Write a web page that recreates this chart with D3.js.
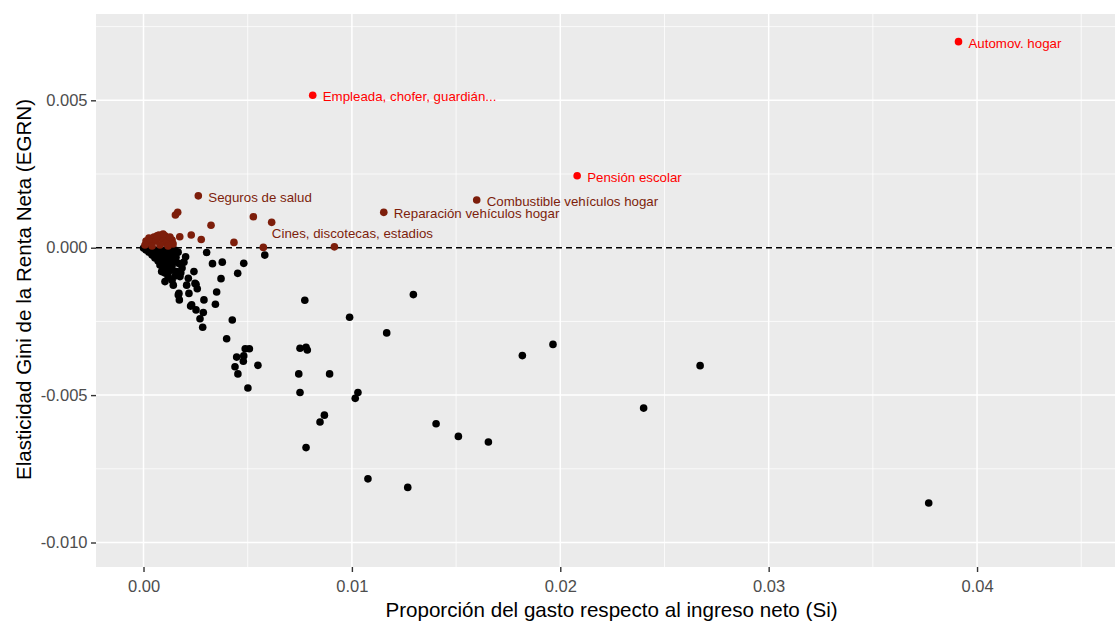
<!DOCTYPE html>
<html>
<head>
<meta charset="utf-8">
<script src="https://cdn.jsdelivr.net/npm/d3@7"></script>
<style>
  html, body { margin: 0; padding: 0; background: #fff; }
  svg { display: block; font-family: "Liberation Sans", Arial, sans-serif; }
</style>
</head>
<body>
<svg id="chart" width="1115" height="622"></svg>
<script>
// ---- Data ----
// Labelled items: name, Si, EGRN
const labelNames = ["Automov. hogar", "Empleada, chofer, guardián...", "Pensión escolar",
  "Combustible vehículos hogar", "Seguros de salud", "Reparación vehículos hogar",
  "Cines, discotecas, estadios"];
const labelSi = [0.03911, 0.00812, 0.02081, 0.01599, 0.00263, 0.01153, 0.00575];
const labelEGRN = [0.00699, 0.00517, 0.00244, 0.00162, 0.00176, 0.00120, 0.00001];

// Unlabelled items with positive elasticity
const posSi = [0.00164, 0.00153, 0.00527, 0.00615, 0.00324, 0.00174, 0.00229, 0.00277, 0.00434, 0.00916,
  0.00122, 0.00074, 0.00026, 0.00103, 0.00137, 0.00050, 0.00089, 0.00012, 0.00031, 0.00060,
  0.00108, 0.00142, 0.00007, 0.00041, 0.00079, 0.00118, 0.00094, 0.00065, 0.00127];
const posEGRN = [0.00120, 0.00111, 0.00105, 0.00086, 0.00076, 0.00037, 0.00043, 0.00028, 0.00018, 0.00003,
  0.00033, 0.00043, 0.00033, 0.00040, 0.00026, 0.00036, 0.00030, 0.00023, 0.00019, 0.00023,
  0.00016, 0.00013, 0.00009, 0.00006, 0.00009, 0.00006, 0.00046, 0.00040, 0.00036];

// Items with negative elasticity
const negSi = [0.00303, 0.00202, 0.00582, 0.00331, 0.00378, 0.00481, 0.00168, 0.00452, 0.00372, 0.00242,
  0.00179, 0.00215, 0.00252, 0.00258, 0.00351, 0.00290, 0.00345, 0.00218, 0.00170, 0.00172,
  0.00226, 0.00252, 0.00287, 0.00271, 0.00284, 0.00426, 0.00399, 0.00774, 0.01295, 0.00989,
  0.01167, 0.00488, 0.00508, 0.00447, 0.00481, 0.00479, 0.00439, 0.00453, 0.00549, 0.00501,
  0.00751, 0.00780, 0.00786, 0.00745, 0.00893, 0.00751, 0.01029, 0.01016, 0.00868, 0.00847,
  0.00780, 0.01404, 0.01511, 0.01655, 0.01077, 0.01268, 0.01818, 0.01965, 0.02400, 0.02671,
  0.03768, 0.00103, 0.00143, 0.00175, 0.00207, 0.00247, 0.00167, 0.00231, 0.00087, 0.00119,
  0.00159, 0.00000, 0.00012, 0.00026, 0.00041, 0.00055, 0.00070, 0.00079, 0.00094, 0.00031,
  0.00055, 0.00079, 0.00103, 0.00127, 0.00151, 0.00046, 0.00070, 0.00094, 0.00118, 0.00142,
  0.00166, 0.00060, 0.00084, 0.00108, 0.00132, 0.00156, 0.00074, 0.00098, 0.00122, 0.00146,
  0.00089, 0.00113, 0.00137, 0.00108, 0.00132, 0.00103, 0.00118, 0.00151, 0.00137, 0.00194,
  0.00185];
const negEGRN = [-0.00016, -0.00031, -0.00025, -0.00054, -0.00049, -0.00053, -0.00053, -0.00087, -0.00105, -0.00081,
  -0.00085, -0.00104, -0.00124, -0.00139, -0.00150, -0.00177, -0.00192, -0.00155, -0.00155, -0.00177,
  -0.00198, -0.00211, -0.00220, -0.00241, -0.00270, -0.00245, -0.00309, -0.00178, -0.00159, -0.00236,
  -0.00289, -0.00343, -0.00343, -0.00371, -0.00367, -0.00385, -0.00404, -0.00428, -0.00399, -0.00476,
  -0.00341, -0.00338, -0.00347, -0.00428, -0.00428, -0.00491, -0.00491, -0.00511, -0.00568, -0.00591,
  -0.00678, -0.00597, -0.00640, -0.00659, -0.00784, -0.00813, -0.00366, -0.00328, -0.00544, -0.00400,
  -0.00866, -0.00115, -0.00127, -0.00098, -0.00127, -0.00121, -0.00160, -0.00194, -0.00081, -0.00081,
  -0.00081, -0.00001, -0.00008, -0.00015, -0.00025, -0.00035, -0.00045, -0.00059, -0.00072, -0.00004,
  -0.00008, -0.00008, -0.00008, -0.00008, -0.00008, -0.00015, -0.00018, -0.00018, -0.00018, -0.00021,
  -0.00015, -0.00028, -0.00032, -0.00032, -0.00035, -0.00032, -0.00042, -0.00045, -0.00049, -0.00045,
  -0.00055, -0.00059, -0.00062, -0.00069, -0.00076, -0.00086, -0.00099, -0.00096, -0.00110, -0.00049,
  -0.00069];

const xTicks = [0.00, 0.01, 0.02, 0.03, 0.04];
const xTickLabels = ["0.00", "0.01", "0.02", "0.03", "0.04"];
const yTicks = [-0.010, -0.005, 0.000, 0.005];
const yTickLabels = ["-0.010", "-0.005", "0.000", "0.005"];
const xTitle = "Proporción del gasto respecto al ingreso neto (Si)";
const yTitle = "Elasticidad Gini de la Renta Neta (EGRN)";

// ---- Layout ----
const panel = { left: 96, top: 14, right: 1115, bottom: 567 };
const svg = d3.select("#chart");

const x = d3.scaleLinear().domain([-0.00228, 0.04662]).range([panel.left, panel.right]);
const y = d3.scaleLinear().domain([-0.010831, 0.007928]).range([panel.bottom, panel.top]);

const colRed = "#ff0000", colDark = "#7d1e0b", colNeg = "#000000";
const colorFor = v => v >= 0.002 ? colRed : (v >= 0 ? colDark : colNeg);

// Panel background
svg.append("rect")
  .attr("x", panel.left).attr("y", panel.top)
  .attr("width", panel.right - panel.left).attr("height", panel.bottom - panel.top)
  .attr("fill", "#ebebeb");

const grid = svg.append("g");
const xMinor = [0.005, 0.015, 0.025, 0.035, 0.045];
const yMinor = [-0.0075, -0.0025, 0.0025, 0.0075];
grid.selectAll(".xm").data(xMinor).join("line")
  .attr("x1", d => x(d)).attr("x2", d => x(d))
  .attr("y1", panel.top).attr("y2", panel.bottom)
  .attr("stroke", "#fff").attr("stroke-width", 0.75);
grid.selectAll(".ym").data(yMinor).join("line")
  .attr("y1", d => y(d)).attr("y2", d => y(d))
  .attr("x1", panel.left).attr("x2", panel.right)
  .attr("stroke", "#fff").attr("stroke-width", 0.75);
grid.selectAll(".xM").data(xTicks).join("line")
  .attr("x1", d => x(d)).attr("x2", d => x(d))
  .attr("y1", panel.top).attr("y2", panel.bottom)
  .attr("stroke", "#fff").attr("stroke-width", 1.5);
grid.selectAll(".yM").data(yTicks).join("line")
  .attr("y1", d => y(d)).attr("y2", d => y(d))
  .attr("x1", panel.left).attr("x2", panel.right)
  .attr("stroke", "#fff").attr("stroke-width", 1.5);

// Axes
const tickFont = "16.5px";
const xAxis = d3.axisBottom(x).tickValues(xTicks)
  .tickFormat((d, i) => xTickLabels[i]).tickSize(5).tickPadding(8);
const gx = svg.append("g").attr("transform", `translate(0,${panel.bottom})`).call(xAxis);
gx.select(".domain").remove();
gx.selectAll(".tick line").attr("stroke", "#333333").attr("stroke-width", 1.4);
gx.selectAll(".tick text").attr("fill", "#4d4d4d").style("font-size", tickFont)
  .style("font-family", "'Liberation Sans', Arial, sans-serif");

const yAxis = d3.axisLeft(y).tickValues(yTicks)
  .tickFormat((d, i) => yTickLabels[i]).tickSize(5).tickPadding(3.5);
const gy = svg.append("g").attr("transform", `translate(${panel.left},0)`).call(yAxis);
gy.select(".domain").remove();
gy.selectAll(".tick line").attr("stroke", "#333333").attr("stroke-width", 1.4);
gy.selectAll(".tick text").attr("fill", "#4d4d4d").style("font-size", tickFont)
  .style("font-family", "'Liberation Sans', Arial, sans-serif");

// Titles
svg.append("text").attr("x", (panel.left + panel.right) / 2 + 6).attr("y", 617)
  .attr("text-anchor", "middle").attr("fill", "#000").style("font-size", "20.6px").text(xTitle);
svg.append("text")
  .attr("transform", `translate(31,${(panel.top + panel.bottom) / 2 - 1}) rotate(-90)`)
  .attr("text-anchor", "middle").attr("fill", "#000").style("font-size", "20.6px").text(yTitle);

// Zero reference line
svg.append("line")
  .attr("x1", panel.left).attr("x2", panel.right)
  .attr("y1", y(0)).attr("y2", y(0))
  .attr("stroke", "#000").attr("stroke-width", 1.5).attr("stroke-dasharray", "6,4");

// Points
const neg = negSi.map((s, i) => ({ s, e: negEGRN[i] }));
const pos = posSi.map((s, i) => ({ s, e: posEGRN[i] }));
const lab = labelNames.map((n, i) => ({ n, s: labelSi[i], e: labelEGRN[i] }));

const R = 3.8;
const pts = svg.append("g");
pts.selectAll(".n").data(neg).join("circle")
  .attr("cx", d => x(d.s)).attr("cy", d => y(d.e)).attr("r", R).attr("fill", d => colorFor(d.e));
pts.selectAll(".p").data(pos).join("circle")
  .attr("cx", d => x(d.s)).attr("cy", d => y(d.e)).attr("r", R).attr("fill", d => colorFor(d.e));
pts.selectAll(".l").data(lab).join("circle")
  .attr("cx", d => x(d.s)).attr("cy", d => y(d.e)).attr("r", R).attr("fill", d => colorFor(d.e));

// Labels (repelled text: Cines label sits above its point)
const nudge = { "Cines, discotecas, estadios": [8.5, -14.5] };
svg.append("g").selectAll("text").data(lab).join("text")
  .attr("x", d => x(d.s) + (nudge[d.n] ? nudge[d.n][0] : 10))
  .attr("y", d => y(d.e) + (nudge[d.n] ? nudge[d.n][1] : 1.5))
  .attr("dy", "0.35em")
  .attr("fill", d => d.e >= 0.002 ? colRed : colDark)
  .style("font-size", "13.3px")
  .text(d => d.n);
</script>
</body>
</html>
